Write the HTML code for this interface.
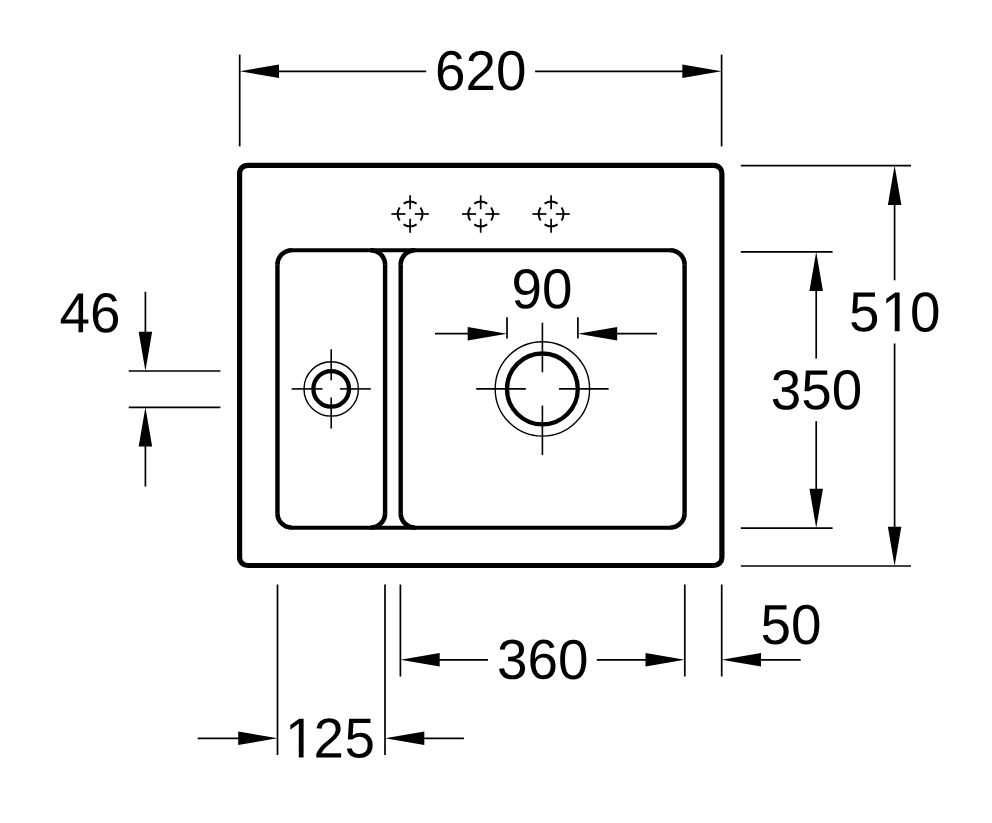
<!DOCTYPE html>
<html><head><meta charset="utf-8"><title>Sink dimensions</title>
<style>
html,body{margin:0;padding:0;background:#fff}
svg{display:block}
svg line,svg path,svg circle,svg rect{stroke:#000}
text{font-family:"Liberation Sans",sans-serif;fill:#000;stroke:none}
.a{fill:#000;stroke:none}
</style></head>
<body>
<svg width="992" height="823" viewBox="0 0 992 823">
<rect x="0" y="0" width="992" height="823" style="fill:#fff;stroke:none"/>
<rect x="239.6" y="165.35" width="482.3" height="400.15" rx="8" fill="none" stroke-width="5.2"/>
<line x1="291.65" y1="250.2" x2="370.9" y2="250.2" stroke-width="4.1"/>
<line x1="291.65" y1="527.7" x2="370.9" y2="527.7" stroke-width="4.1"/>
<line x1="277.45" y1="264.4" x2="277.45" y2="513.5" stroke-width="4.4"/>
<line x1="385.1" y1="264.4" x2="385.1" y2="513.5" stroke-width="4.4"/>
<path d="M277.45 264.7A14.5 14.5 0 0 1 291.95 250.2M370.6 250.2A14.5 14.5 0 0 1 385.1 264.7M385.1 513.2A14.5 14.5 0 0 1 370.6 527.7M291.95 527.7A14.5 14.5 0 0 1 277.45 513.2" fill="none" stroke-width="4.6"/>
<line x1="414.9" y1="250.2" x2="670.4" y2="250.2" stroke-width="4.1"/>
<line x1="414.9" y1="527.7" x2="670.4" y2="527.7" stroke-width="4.1"/>
<line x1="400.7" y1="264.4" x2="400.7" y2="513.5" stroke-width="4.4"/>
<line x1="684.6" y1="264.4" x2="684.6" y2="513.5" stroke-width="4.4"/>
<path d="M400.7 264.7A14.5 14.5 0 0 1 415.2 250.2M670.1 250.2A14.5 14.5 0 0 1 684.6 264.7M684.6 513.2A14.5 14.5 0 0 1 670.1 527.7M415.2 527.7A14.5 14.5 0 0 1 400.7 513.2" fill="none" stroke-width="4.6"/>
<line x1="370.6" y1="250.2" x2="415.2" y2="250.2" stroke-width="4.1"/>
<line x1="370.6" y1="527.7" x2="415.2" y2="527.7" stroke-width="4.1"/>
<path d="M420.53 207.48A12.3 12.3 0 0 1 420.53 220.52" fill="none" stroke-width="1.9"/>
<path d="M416.62 224.43A12.3 12.3 0 0 1 403.58 224.43" fill="none" stroke-width="1.9"/>
<path d="M399.67 220.52A12.3 12.3 0 0 1 399.67 207.48" fill="none" stroke-width="1.9"/>
<path d="M403.58 203.57A12.3 12.3 0 0 1 416.62 203.57" fill="none" stroke-width="1.9"/>
<line x1="391.4" y1="214.0" x2="405.4" y2="214.0" stroke-width="1.7"/>
<line x1="414.8" y1="214.0" x2="428.8" y2="214.0" stroke-width="1.7"/>
<line x1="410.1" y1="195.3" x2="410.1" y2="209.3" stroke-width="1.7"/>
<line x1="410.1" y1="218.7" x2="410.1" y2="232.7" stroke-width="1.7"/>
<path d="M491.13 207.48A12.3 12.3 0 0 1 491.13 220.52" fill="none" stroke-width="1.9"/>
<path d="M487.22 224.43A12.3 12.3 0 0 1 474.18 224.43" fill="none" stroke-width="1.9"/>
<path d="M470.27 220.52A12.3 12.3 0 0 1 470.27 207.48" fill="none" stroke-width="1.9"/>
<path d="M474.18 203.57A12.3 12.3 0 0 1 487.22 203.57" fill="none" stroke-width="1.9"/>
<line x1="462.0" y1="214.0" x2="476.0" y2="214.0" stroke-width="1.7"/>
<line x1="485.4" y1="214.0" x2="499.4" y2="214.0" stroke-width="1.7"/>
<line x1="480.7" y1="195.3" x2="480.7" y2="209.3" stroke-width="1.7"/>
<line x1="480.7" y1="218.7" x2="480.7" y2="232.7" stroke-width="1.7"/>
<path d="M561.53 207.48A12.3 12.3 0 0 1 561.53 220.52" fill="none" stroke-width="1.9"/>
<path d="M557.62 224.43A12.3 12.3 0 0 1 544.58 224.43" fill="none" stroke-width="1.9"/>
<path d="M540.67 220.52A12.3 12.3 0 0 1 540.67 207.48" fill="none" stroke-width="1.9"/>
<path d="M544.58 203.57A12.3 12.3 0 0 1 557.62 203.57" fill="none" stroke-width="1.9"/>
<line x1="532.4" y1="214.0" x2="546.4" y2="214.0" stroke-width="1.7"/>
<line x1="555.8" y1="214.0" x2="569.8" y2="214.0" stroke-width="1.7"/>
<line x1="551.1" y1="195.3" x2="551.1" y2="209.3" stroke-width="1.7"/>
<line x1="551.1" y1="218.7" x2="551.1" y2="232.7" stroke-width="1.7"/>
<circle cx="542.4" cy="388.9" r="35.4" fill="none" stroke-width="4.3"/>
<circle cx="542.4" cy="388.9" r="47.2" fill="none" stroke-width="1.4"/>
<line x1="476.2" y1="388.9" x2="525.8" y2="388.9" stroke-width="1.6"/>
<line x1="559.0" y1="388.9" x2="608.6" y2="388.9" stroke-width="1.6"/>
<line x1="542.4" y1="322.7" x2="542.4" y2="372.3" stroke-width="1.6"/>
<line x1="542.4" y1="405.5" x2="542.4" y2="455.1" stroke-width="1.6"/>
<circle cx="331.2" cy="388.9" r="17.8" fill="none" stroke-width="4.3"/>
<circle cx="331.2" cy="388.9" r="27.2" fill="none" stroke-width="1.4"/>
<line x1="291.6" y1="388.9" x2="322.5" y2="388.9" stroke-width="1.6"/>
<line x1="339.9" y1="388.9" x2="370.8" y2="388.9" stroke-width="1.6"/>
<line x1="331.2" y1="349.3" x2="331.2" y2="380.2" stroke-width="1.6"/>
<line x1="331.2" y1="397.6" x2="331.2" y2="428.5" stroke-width="1.6"/>
<line x1="239.7" y1="54.6" x2="239.7" y2="146.4" stroke-width="1.7"/>
<line x1="721.6" y1="54.6" x2="721.6" y2="146.4" stroke-width="1.7"/>
<polygon class="a" points="239.70,71.20 279.00,64.45 279.00,77.95"/>
<polygon class="a" points="721.60,71.20 682.30,64.45 682.30,77.95"/>
<line x1="270" y1="71.3" x2="426.2" y2="71.3" stroke-width="1.7"/>
<line x1="535.1" y1="71.3" x2="690" y2="71.3" stroke-width="1.7"/>
<text transform="translate(435.1 90.0) rotate(0.03) scale(1.005 1.035)" font-size="54.5">620</text>
<line x1="507" y1="317.3" x2="507" y2="338.6" stroke-width="1.7"/>
<line x1="577.9" y1="317.3" x2="577.9" y2="338.6" stroke-width="1.7"/>
<polygon class="a" points="507.00,333.70 467.70,326.95 467.70,340.45"/>
<polygon class="a" points="577.90,333.70 617.20,326.95 617.20,340.45"/>
<line x1="435" y1="333.7" x2="470" y2="333.7" stroke-width="1.7"/>
<line x1="615" y1="333.7" x2="657" y2="333.7" stroke-width="1.7"/>
<text transform="translate(511.6 308.3) rotate(0.03) scale(1.005 1.035)" font-size="54.5">90</text>
<line x1="740.8" y1="165.6" x2="911" y2="165.6" stroke-width="1.7"/>
<line x1="740.8" y1="566.0" x2="911" y2="566.0" stroke-width="1.7"/>
<line x1="740.8" y1="251.8" x2="832.6" y2="251.8" stroke-width="1.7"/>
<line x1="740.8" y1="528.1" x2="832.6" y2="528.1" stroke-width="1.7"/>
<polygon class="a" points="894.60,165.60 887.85,204.90 901.35,204.90"/>
<polygon class="a" points="894.60,566.00 887.85,526.70 901.35,526.70"/>
<line x1="894.6" y1="200" x2="894.6" y2="280.3" stroke-width="1.7"/>
<line x1="894.6" y1="343.5" x2="894.6" y2="530" stroke-width="1.7"/>
<polygon class="a" points="816.20,251.80 809.45,291.10 822.95,291.10"/>
<polygon class="a" points="816.20,528.10 809.45,488.80 822.95,488.80"/>
<line x1="816.2" y1="285" x2="816.2" y2="358.6" stroke-width="1.7"/>
<line x1="816.2" y1="421.2" x2="816.2" y2="495" stroke-width="1.7"/>
<clipPath id="c510"><rect x="0" y="0" width="992" height="327"/><rect x="894.78" y="326" width="4.82" height="8"/><rect x="0" y="326" width="884" height="20"/><rect x="910" y="326" width="82" height="20"/></clipPath>
<g clip-path="url(#c510)"><text transform="translate(849 331.35) rotate(0.03) scale(1.005 1.035)" font-size="54.5" x="0.00 31.91 60.72">510</text></g>
<text transform="translate(770.8 409.2) rotate(0.03) scale(1.005 1.035)" font-size="54.5">350</text>
<line x1="277.5" y1="584.5" x2="277.5" y2="755.0" stroke-width="1.7"/>
<line x1="385.0" y1="584.5" x2="385.0" y2="755.0" stroke-width="1.7"/>
<line x1="400.4" y1="584.5" x2="400.4" y2="676.5" stroke-width="1.7"/>
<line x1="684.8" y1="584.5" x2="684.8" y2="676.5" stroke-width="1.7"/>
<line x1="721.7" y1="584.5" x2="721.7" y2="676.5" stroke-width="1.7"/>
<polygon class="a" points="400.40,659.80 439.70,653.05 439.70,666.55"/>
<polygon class="a" points="684.80,659.80 645.50,653.05 645.50,666.55"/>
<line x1="435" y1="659.8" x2="488" y2="659.8" stroke-width="1.7"/>
<line x1="596.8" y1="659.8" x2="650" y2="659.8" stroke-width="1.7"/>
<text transform="translate(497.0 678.85) rotate(0.03) scale(1.005 1.035)" font-size="54.5">360</text>
<polygon class="a" points="721.70,659.80 761.00,653.05 761.00,666.55"/>
<line x1="755" y1="659.8" x2="800.7" y2="659.8" stroke-width="1.7"/>
<text transform="translate(760.6 644.1) rotate(0.03) scale(1.005 1.035)" font-size="54.5">50</text>
<polygon class="a" points="277.50,738.30 238.20,731.55 238.20,745.05"/>
<line x1="197.7" y1="738.3" x2="245" y2="738.3" stroke-width="1.7"/>
<polygon class="a" points="385.00,738.30 424.30,731.55 424.30,745.05"/>
<line x1="420" y1="738.3" x2="463.9" y2="738.3" stroke-width="1.7"/>
<clipPath id="c125"><rect x="0" y="0" width="992" height="753"/><rect x="298.78" y="752" width="4.82" height="8"/><rect x="0" y="752" width="288" height="20"/><rect x="314" y="752" width="678" height="20"/></clipPath>
<g clip-path="url(#c125)"><text transform="translate(284.5 757.4) rotate(0.03) scale(1.005 1.035)" font-size="54.5" x="0.60 28.81 59.82">125</text></g>
<line x1="128.7" y1="371.0" x2="220.4" y2="371.0" stroke-width="1.7"/>
<line x1="128.7" y1="407.3" x2="220.4" y2="407.3" stroke-width="1.7"/>
<polygon class="a" points="145.40,371.00 138.65,331.70 152.15,331.70"/>
<line x1="145.4" y1="291.8" x2="145.4" y2="336" stroke-width="1.7"/>
<polygon class="a" points="145.40,407.30 138.65,446.60 152.15,446.60"/>
<line x1="145.4" y1="440" x2="145.4" y2="486.5" stroke-width="1.7"/>
<text transform="translate(59.6 332.3) rotate(0.03) scale(1.005 1.035)" font-size="54.5">46</text>
</svg>
</body></html>
